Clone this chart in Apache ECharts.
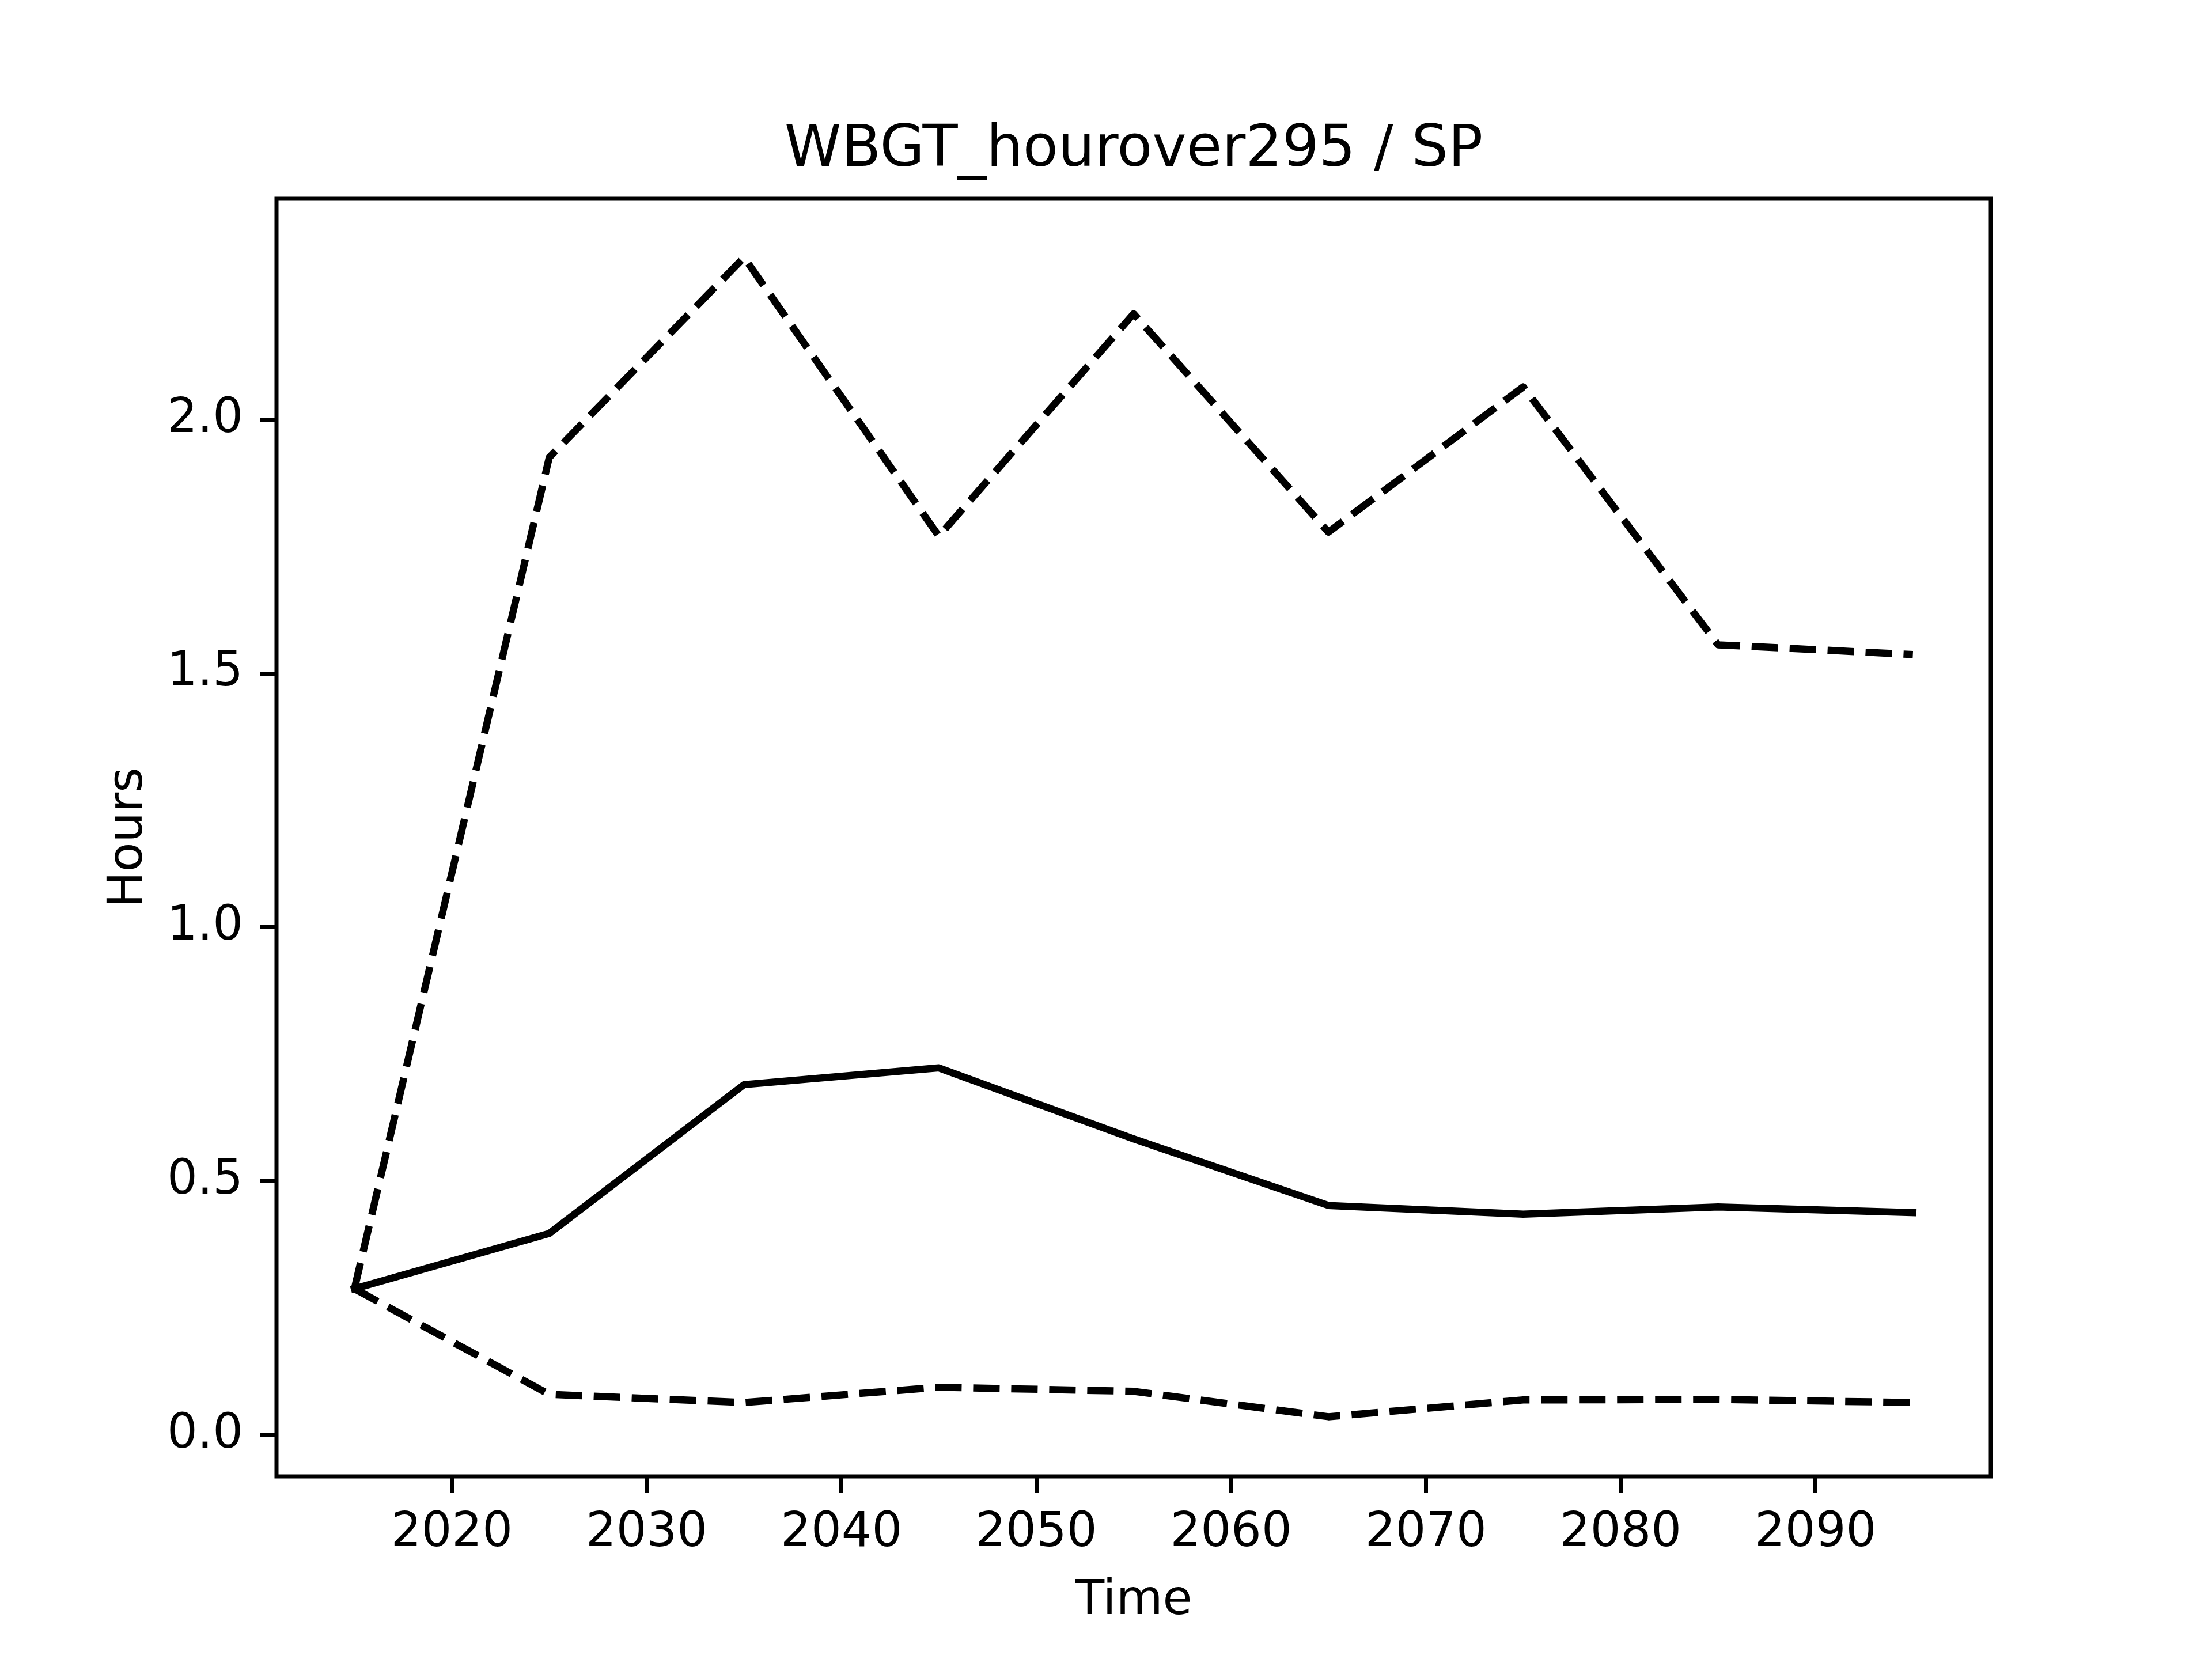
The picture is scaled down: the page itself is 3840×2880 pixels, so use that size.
<!DOCTYPE html>
<html><head><meta charset="utf-8">
<script src="https://cdn.jsdelivr.net/npm/echarts@6/dist/echarts.min.js"></script>
<style>html,body{margin:0;padding:0;background:#fff}#c{width:3840px;height:2880px}</style>
</head><body><div id="c"></div>
<script>
const years = [2015, 2025, 2035, 2045, 2055, 2065, 2075, 2085, 2095];
const meanVals = [0.288, 0.397, 0.690, 0.723, 0.583, 0.452, 0.435, 0.449, 0.438];
const upperVals = [0.288, 1.925, 2.319, 1.770, 2.208, 1.778, 2.064, 1.556, 1.537];
const lowerVals = [0.288, 0.080, 0.064, 0.094, 0.086, 0.036, 0.069, 0.070, 0.064];
const xTicks = [2020, 2030, 2040, 2050, 2060, 2070, 2080, 2090];
const yTicks = [0.0, 0.5, 1.0, 1.5, 2.0];
const titleText = 'WBGT_hourover295 / SP';

const pairs = v => years.map((y, i) => [y, v[i]]);
const font = 'DejaVu Sans';
const dashStyle = {color: '#000', width: 12.5, type: [46, 20], cap: 'butt', join: 'round'};
const chart = echarts.init(document.getElementById('c'), null, {renderer: 'canvas'});
chart.setOption({
  animation: false,
  backgroundColor: '#fff',
  graphic: [{type: 'text', x: 1968, y: 262, style: {text: titleText, fontFamily: font, fontSize: 100,
    fill: '#000', textAlign: 'center', textVerticalAlign: 'middle'}}],
  grid: {left: 480, right: 384, top: 345, bottom: 317, show: true, borderColor: '#000', borderWidth: 7, backgroundColor: 'transparent'},
  xAxis: {type: 'value', min: 2011, max: 2099,
    name: 'Time', nameLocation: 'middle', nameGap: 176,
    nameTextStyle: {fontFamily: font, fontSize: 83, color: '#000'},
    axisLine: {show: false, onZero: false}, splitLine: {show: false},
    axisTick: {show: true, inside: false, length: 29, lineStyle: {color: '#000', width: 7}, customValues: xTicks},
    axisLabel: {fontFamily: font, fontSize: 83, color: '#000', margin: 58, customValues: xTicks,
      formatter: v => String(v)}},
  yAxis: {type: 'value', min: -0.0815, max: 2.4345,
    name: 'Hours', nameLocation: 'middle', nameGap: 214, nameRotate: 90,
    nameTextStyle: {fontFamily: font, fontSize: 83, color: '#000'},
    axisLine: {show: false, onZero: false}, splitLine: {show: false},
    axisTick: {show: true, inside: false, length: 29, lineStyle: {color: '#000', width: 7}, customValues: yTicks},
    axisLabel: {fontFamily: font, fontSize: 83, color: '#000', margin: 58, customValues: yTicks,
      formatter: v => v.toFixed(1)}},
  series: [
    {type: 'line', data: pairs(upperVals), symbol: 'none', lineStyle: dashStyle, z: 2},
    {type: 'line', data: pairs(meanVals), symbol: 'none', lineStyle: {color: '#000', width: 12.5, type: 'solid', cap: 'square', join: 'round'}, z: 3},
    {type: 'line', data: pairs(lowerVals), symbol: 'none', lineStyle: dashStyle, z: 2}
  ]
});
</script></body></html>
